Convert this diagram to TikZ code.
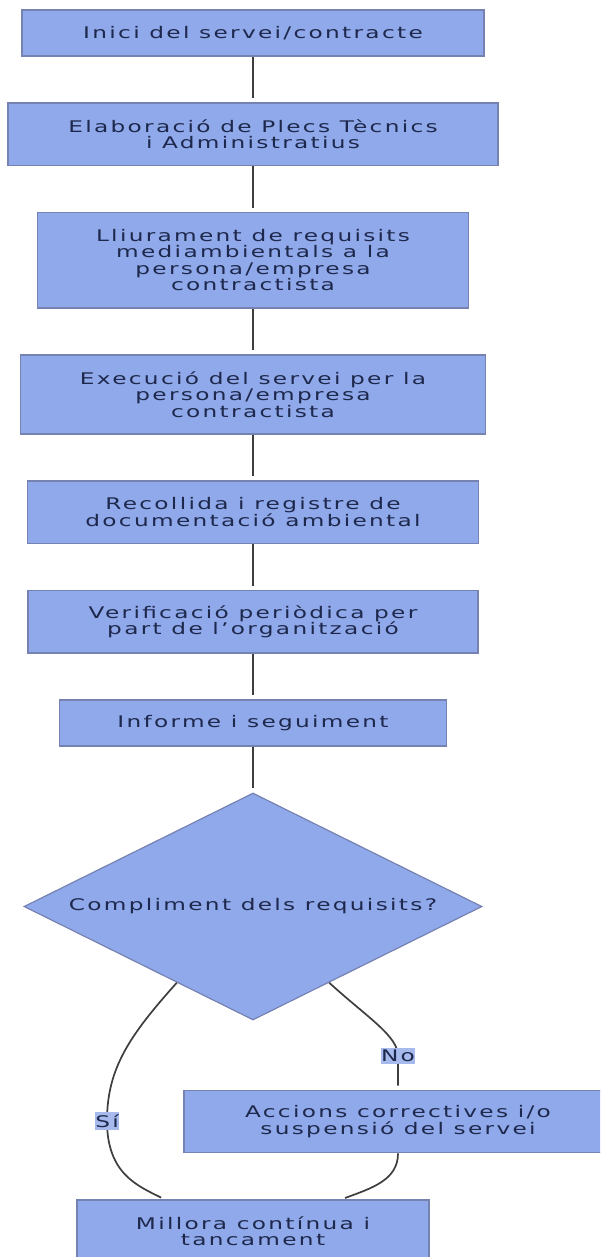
\documentclass[tikz,border=0pt]{standalone}
\usepackage{fontspec}
\setmainfont{DejaVu Sans}[FakeStretch=1.45, LetterSpace=14.5]
\usetikzlibrary{shapes.geometric,calc}

\definecolor{boxfill}{RGB}{143,169,234}
\definecolor{boxline}{RGB}{118,130,178}
\definecolor{txtcol}{RGB}{30,40,76}
\definecolor{lblfill}{RGB}{166,186,237}
\definecolor{linkcol}{RGB}{62,62,62}

\tikzset{
  caixa/.style={draw=boxline, line width=1.2pt, fill=boxfill, text=txtcol,
    align=center, inner sep=0pt, font=\fontsize{16}{16.5}\selectfont},
  decisio/.style={caixa, diamond, aspect=2},
  enllac/.style={draw=linkcol, line width=1.7pt, shorten >=4pt},
  etiq/.style={fill=lblfill, text=txtcol, inner xsep=0.5pt, inner ysep=2.5pt,
    font=\fontsize{16}{16.5}\selectfont}
}

\begin{document}
\begin{tikzpicture}[x=1pt,y=-1pt]
    \useasboundingbox (0,0) rectangle (600,1257);
    \clip (0,0) rectangle (600,1257);
    \node[caixa, minimum width=462, minimum height=46] (inici) at (253,33) {Inici del servei/contracte};
    \node[caixa, minimum width=490, minimum height=62.5] (plecs) at (253,134.25) {Elaboració de Plecs Tècnics\\i Administratius};
    \node[caixa, minimum width=431, minimum height=95.5] (lliura) at (253,260.25) {Lliurament de requisits\\mediambientals a la\\persona/empresa\\contractista};
    \node[caixa, minimum width=465, minimum height=79] (exec) at (253,394.5) {Execució del servei per la\\persona/empresa\\contractista};
    \node[caixa, minimum width=451, minimum height=62.5] (recull) at (253,512.25) {Recollida i registre de\\documentació ambiental};
    \node[caixa, minimum width=450, minimum height=62.5] (verif) at (253,621.75) {Verificació periòdica per\\part de l’organització};
    \node[caixa, minimum width=387, minimum height=46] (inform) at (253,723) {Informe i seguiment};
    \node[decisio, minimum width=458, minimum height=227] (compl) at (253,906.5) {Compliment dels requisits?};
    \node[caixa, minimum width=428, minimum height=62.5] (accio) at (398,1121.5) {Accions correctives i/o\\suspensió del servei};
    \node[caixa, minimum width=352, minimum height=62.5] (millora) at (253,1231.25) {Millora contínua i\\tancament};

    \draw[enllac] (inici) -- (plecs);
    \draw[enllac] (plecs) -- (lliura);
    \draw[enllac] (lliura) -- (exec);
    \draw[enllac] (exec) -- (recull);
    \draw[enllac] (recull) -- (verif);
    \draw[enllac] (verif) -- (inform);
    \draw[enllac] (inform) -- (compl);
    % branques de la decisio
    \draw[enllac] (compl.225) .. controls (130,1035) and (107,1068) .. (107,1121)
      node[etiq] {Sí}
      .. controls (107,1174) and (138,1186) .. ($(millora.north west)!0.25!(millora.north east)$);
    \draw[enllac] (compl.315) .. controls (368,1018) and (398,1036) .. (398,1056)
      node[etiq] {No} -- (accio.north);
    \draw[enllac] (accio.south) .. controls (398,1180) and (372,1188) .. ($(millora.north west)!0.75!(millora.north east)$);
\end{tikzpicture}
\end{document}
